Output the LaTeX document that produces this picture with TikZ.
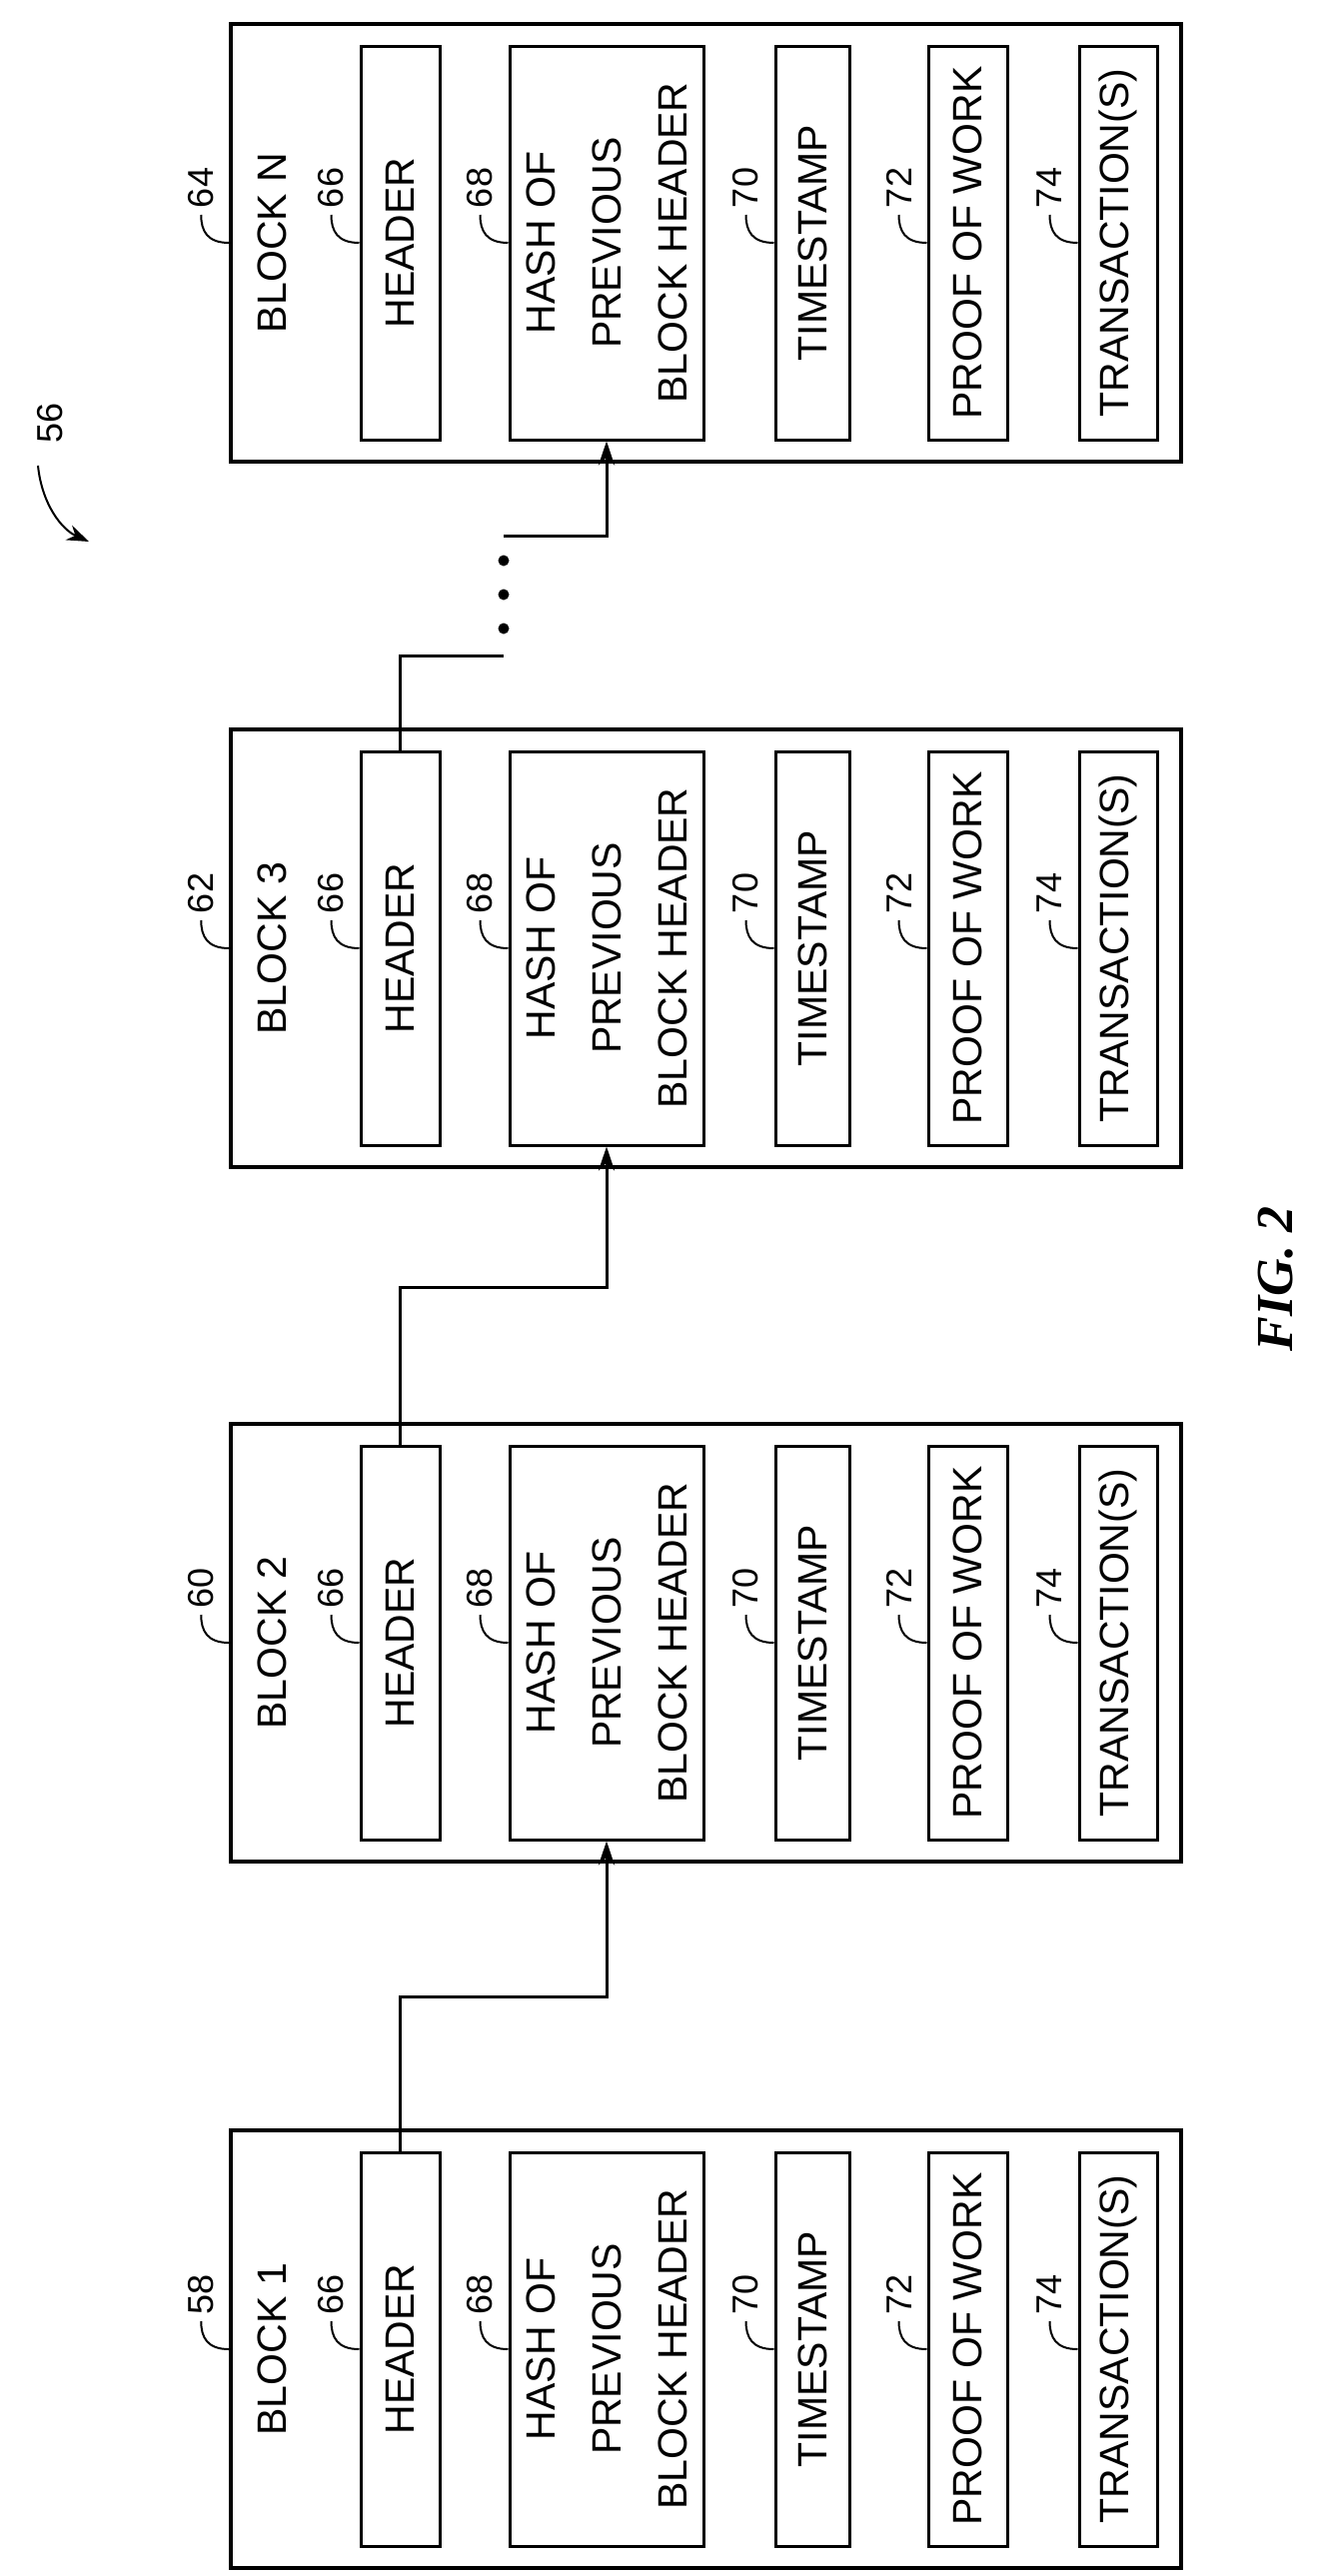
\documentclass[tikz,border=0pt]{standalone}
\usepackage{fontspec}
\setmainfont{Liberation Sans}
\newfontfamily\figfont{Liberation Serif}
\usetikzlibrary{arrows.meta}
\begin{document}
\begin{tikzpicture}[x=1pt,y=-1pt,
  box/.style={draw,line width=3pt,rotate=90,minimum width=394pt,inner sep=0pt,
    font=\fontsize{41}{66}\selectfont,align=center},
  outer/.style={draw,line width=3.5pt,rotate=90,minimum width=438pt,minimum height=951pt,inner sep=0pt},
  lbl/.style={rotate=90,font=\fontsize{41}{50}\selectfont},
  num/.style={rotate=90,anchor=west,inner sep=6pt,font=\fontsize{36}{40}\selectfont},
  lead/.style={line width=2pt},
  conn/.style={line width=3pt},
  arr/.style={-{Stealth[length=24pt,width=16pt]}}]
\useasboundingbox (0,0) rectangle (1318,2578);
\foreach \t/\n/\b/\id in {24/64/BLOCK N/bN, 730/62/BLOCK 3/b3, 1425/60/BLOCK 2/b2, 2132/58/BLOCK 1/b1}{
  \pgfmathsetmacro{\c}{\t+219}
  \node[outer] (\id-out) at (706.5,\c) {};
  \node[box,minimum height=79pt] (\id-hdr) at (400.5,\c) {HEADER};
  \node[box,minimum height=194pt] (\id-hash) at (607,\c) {HASH OF\\PREVIOUS\\BLOCK HEADER};
  \node[box,minimum height=74pt] (\id-ts) at (813,\c) {TIMESTAMP};
  \node[box,minimum height=79pt] (\id-pow) at (968.5,\c) {PROOF OF WORK};
  \node[box,minimum height=78pt] (\id-tx) at (1119,\c) {TRANSACTION(S)};
  \node[lbl] (\id-lbl) at (272,\c) {\b};
  \draw[lead] (\id-out.north) .. controls +(-22,0) and +(0,16) .. ++(-28,-28) node[num] (\id-n) {\n};
  \draw[lead] (\id-hdr.north) .. controls +(-22,0) and +(0,16) .. ++(-28,-28) node[num] (\id-n66) {66};
  \draw[lead] (\id-hash.north) .. controls +(-22,0) and +(0,16) .. ++(-28,-28) node[num] (\id-n68) {68};
  \draw[lead] (\id-ts.north) .. controls +(-22,0) and +(0,16) .. ++(-28,-28) node[num] (\id-n70) {70};
  \draw[lead] (\id-pow.north) .. controls +(-22,0) and +(0,16) .. ++(-28,-28) node[num] (\id-n72) {72};
  \draw[lead] (\id-tx.north) .. controls +(-22,0) and +(0,16) .. ++(-28,-28) node[num] (\id-n74) {74};
}
\draw[conn,arr] (b1-hdr.east) -- ++(0,-154) -| (b2-hash.west);
\draw[conn,arr] (b2-hdr.east) -- ++(0,-157) -| (b3-hash.west);
\coordinate (d1) at (504,656);
\coordinate (d2) at (504,536);
\draw[conn] (b3-hdr.east) |- (d1);
\draw[conn,arr] (d2) -| (bN-hash.west);
\foreach \y/\k in {561/a,595/b,629/c}{\fill (504,\y) circle (5.5pt) coordinate (dot\k);}
\node[rotate=90,font=\fontsize{36}{40}\selectfont] (n56) at (50,423) {56};
\coordinate (a56s) at (38,466);
\coordinate (a56e) at (89,542);
\draw[line width=2pt,-{Stealth[length=22pt,width=16pt]}] (a56s) .. controls (42,505) and (62,530) .. (a56e);
\node[rotate=90,font=\fontsize{52}{60}\figfont\bfseries\itshape] (fig) at (1277,1280) {FIG. 2};
\end{tikzpicture}
\end{document}
